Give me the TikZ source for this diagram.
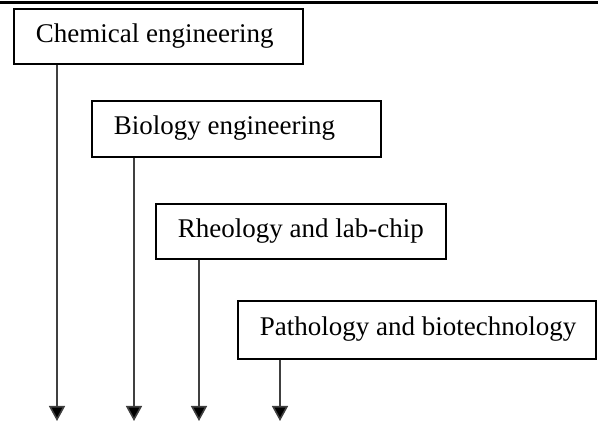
\documentclass[tikz,border=0pt]{standalone}
\usepackage{fontspec}
\setmainfont{Liberation Serif}
\usetikzlibrary{arrows.meta}
\begin{document}
\begin{tikzpicture}[x=1pt,y=-1pt,
  stagebox/.style={draw=black, line width=1.6pt, rectangle, anchor=north west,
    inner xsep=22pt, inner ysep=0pt,
    text height=18pt, text depth=6pt,
    font=\fontsize{27}{32}\selectfont},
  flow/.style={draw=black!75, line width=1.6pt,
    -{Triangle[width=16pt,length=15pt,fill=black]}}]
\useasboundingbox (0,0) rectangle (598,422);
\draw[line width=3pt] (0,2.5) -- (598,2.5);
\node[stagebox, minimum height=55pt] (b1) at (13,8) {\makebox[245pt][l]{Chemical engineering}};
\node[stagebox, minimum height=56pt] (b2) at (91,100) {\makebox[245pt][l]{Biology engineering}};
\node[stagebox, minimum height=55pt] (b3) at (155,203) {\makebox[246pt][l]{Rheology and lab-chip}};
\node[stagebox, minimum height=58pt] (b4) at (237,300) {\makebox[314pt][l]{Pathology and biotechnology}};
\coordinate (e1) at (57,421);
\coordinate (e2) at (134,421);
\coordinate (e3) at (199,421);
\coordinate (e4) at (280,421);
\draw[flow] (b1.south -| e1) -- (e1);
\draw[flow] (b2.south -| e2) -- (e2);
\draw[flow] (b3.south -| e3) -- (e3);
\draw[flow] (b4.south -| e4) -- (e4);
\end{tikzpicture}
\end{document}
